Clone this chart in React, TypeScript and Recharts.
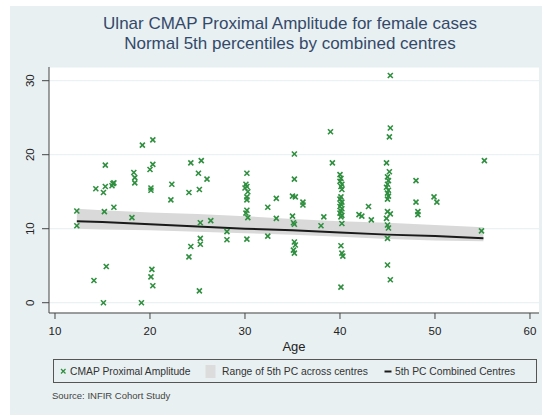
import React from 'react';
import { ComposedChart, Scatter, Area, Line, XAxis, YAxis, CartesianGrid } from 'recharts';

// Scatter: CMAP proximal amplitude by age (female cases)
const cmapAge = [
  12.3, 12.3,
  14.3, 14.1,
  15.3, 15.1, 15.3, 15.2, 15.4, 15.1,
  16.1, 16.2, 16.0, 16.2,
  18.1, 18.3, 18.4, 18.4,
  19.2, 19.1,
  20.3, 20.3, 20.0, 20.1, 20.1, 20.2, 20.1, 20.3,
  22.3, 22.2,
  24.3, 24.1, 24.3, 24.1,
  25.4, 25.1, 25.2, 25.3, 25.3, 25.3, 25.2,
  26.0, 26.4,
  28.1, 28.1,
  30.2, 30.1, 30.2, 30.0, 30.3, 30.2, 30.2, 30.2, 30.1, 30.3, 30.2,
  32.4, 32.4,
  33.3, 33.3,
  35.2, 35.2, 35.0, 35.3, 35.0, 35.1, 35.2, 35.2, 35.3, 35.1, 35.2,
  36.1, 36.1,
  38.3, 38.0,
  39.0, 39.2,
  40.0, 40.1, 40.0, 40.2, 40.1, 40.2, 40.1, 40.0, 40.2, 40.1, 40.0, 40.2, 40.1, 40.0, 40.2, 40.1, 40.2, 40.1, 40.2, 40.3, 40.1,
  42.0, 42.3,
  43.0, 43.3,
  45.3, 45.3, 45.2, 44.9, 45.2, 45.0, 45.1, 45.0, 44.9, 45.1, 45.0, 45.1, 45.0, 45.0, 45.3, 44.9, 45.0, 45.1, 45.0, 45.0, 45.3,
  48.0, 48.0, 48.2, 48.2,
  49.9, 50.2,
  55.2, 54.9,
];
const cmapAmp = [
  12.4, 10.4,
  15.4, 3.0,
  18.6, 14.9, 15.7, 12.3, 4.9, 0.0,
  16.1, 16.2, 15.8, 12.9,
  11.5, 17.6, 16.9, 16.2,
  21.3, 0.0,
  22.0, 18.7, 18.0, 15.5, 15.2, 4.5, 3.5, 2.3,
  16.0, 13.9,
  18.9, 14.9, 7.6, 6.2,
  19.2, 17.5, 15.3, 10.8, 8.7, 7.9, 1.6,
  16.7, 11.1,
  9.6, 8.5,
  17.5, 16.0, 15.7, 15.5, 15.0, 14.3, 13.9, 12.5, 12.1, 11.5, 8.6,
  12.9, 9.0,
  14.1, 11.4,
  20.1, 16.7, 14.4, 14.3, 11.7, 10.8, 10.6, 8.2, 7.8, 7.1, 6.7,
  13.6, 13.2,
  11.6, 10.4,
  23.1, 18.9,
  17.3, 16.8, 16.4, 16.0, 15.7, 15.3, 14.3, 14.0, 13.6, 13.3, 13.0, 12.7, 12.4, 12.1, 11.8, 11.6, 10.7, 7.7, 6.7, 6.3, 2.1,
  11.9, 11.7,
  13.0, 11.2,
  30.7, 23.6, 22.4, 18.9, 17.7, 17.0, 16.5, 16.0, 15.6, 15.2, 14.8, 14.4, 14.0, 12.3, 12.0, 11.4, 10.5, 10.1, 8.7, 5.1, 3.1,
  16.5, 13.6, 12.3, 11.9,
  14.3, 13.6,
  19.2, 9.7,
];

// Range of 5th PC across centres and combined 5th PC line
const pcAge = [12.3, 15, 20, 25, 30, 35, 40, 45, 50, 55.1];
const bandLow = [10.0, 9.9, 9.8, 9.6, 9.4, 9.2, 8.9, 8.6, 8.4, 8.3];
const bandHigh = [12.7, 12.5, 12.2, 12.0, 11.7, 11.3, 11.0, 10.8, 10.5, 10.2];
const pcCombined = [11.0, 10.9, 10.6, 10.3, 10.0, 9.8, 9.5, 9.2, 9.0, 8.7];

const xTicks = [10, 20, 30, 40, 50, 60];
const yTicks = [0, 10, 20, 30];

const titleLines = ['Ulnar CMAP Proximal Amplitude for female cases', 'Normal 5th percentiles by combined centres'];
const legendLabels = ['CMAP Proximal Amplitude', 'Range of 5th PC across centres', '5th PC Combined Centres'];
const sourceText = 'Source:  INFIR Cohort Study';
const xTitle = 'Age';

const scatterData = cmapAge.map((a, i) => ({ age: a, amp: cmapAmp[i] }));
const bandData = pcAge.map((a, i) => ({ age: a, lo: bandLow[i], hi: bandHigh[i] }));
const lineData = pcAge.map((a, i) => ({ age: a, pc: pcCombined[i] }));

const GREEN = '#2f8f3f';
const FONT = '"Liberation Sans", Arial, sans-serif';

const XMark = (props: any) => {
  const { cx, cy } = props;
  if (cx == null || cy == null) return null;
  const s = 2.5;
  return (
    <g stroke={GREEN} strokeWidth={1.6}>
      <line x1={cx - s} y1={cy - s} x2={cx + s} y2={cy + s} />
      <line x1={cx - s} y1={cy + s} x2={cx + s} y2={cy - s} />
    </g>
  );
};

const RotTick = (props: any) => {
  const { y, payload } = props;
  return (
    <text x={30} y={y} transform={`rotate(-90, 30, ${y})`} textAnchor="middle" dominantBaseline="central"
      fontSize={11.5} fill="#222" fontFamily={FONT}>
      {payload.value}
    </text>
  );
};

export default function App() {
  return (
    <div style={{ position: 'absolute', left: 0, top: 0, width: 542, height: 415, background: '#ffffff', fontFamily: FONT, overflow: 'hidden' }}>
      <div style={{ position: 'absolute', left: 10, top: 6, width: 532, height: 409, background: '#e8f0f2' }} />
      <div style={{ position: 'absolute', left: 90, top: 14, width: 400, textAlign: 'center', color: '#34496a', fontSize: 17, lineHeight: '20px' }}>
        <div>{titleLines[0]}</div>
        <div>{titleLines[1]}</div>
      </div>
      <div style={{ position: 'absolute', left: 0, top: 0 }}>
        <ComposedChart width={542} height={415} margin={{ top: 67, right: 3, bottom: 72, left: 9 }}>
          <CartesianGrid horizontal vertical={false} stroke="#e6eff1" fill="#ffffff" />
          <XAxis type="number" dataKey="age" domain={[9.37, 60.95]} ticks={xTicks} allowDataOverflow
            tickSize={6} tickMargin={8} height={30} stroke="#444"
            tick={{ fill: '#222', fontSize: 11.5, fontFamily: FONT }} />
          <YAxis type="number" domain={[-1.39, 31.85]} ticks={yTicks} allowDataOverflow width={40}
            tickSize={7} stroke="#444" tick={<RotTick />} />
          <Area data={bandData} dataKey={(d: any) => [d.lo, d.hi]} type="linear" fill="#d9d9d9" fillOpacity={1}
            stroke="none" isAnimationActive={false} dot={false} activeDot={false} />
          <Line data={lineData} dataKey="pc" type="linear" stroke="#1a1a1a" strokeWidth={2} dot={false}
            activeDot={false} isAnimationActive={false} />
          <Scatter data={scatterData} dataKey="amp" shape={XMark} isAnimationActive={false} />
        </ComposedChart>
      </div>
      <div style={{ position: 'absolute', left: 244, top: 339, width: 100, textAlign: 'center', fontSize: 13, color: '#222' }}>{xTitle}</div>
      <div style={{ position: 'absolute', left: 53, top: 359, width: 484, height: 24, border: '1px solid #555', boxSizing: 'border-box' }} />
      <svg style={{ position: 'absolute', left: 0, top: 0 }} width={542} height={415}>
        <g stroke={GREEN} strokeWidth={1.3}>
          <line x1={61} y1={369} x2={65.5} y2={373.5} />
          <line x1={61} y1={373.5} x2={65.5} y2={369} />
        </g>
        <text x={70} y={375} fontSize={10.3} fill="#333" fontFamily={FONT}>{legendLabels[0]}</text>
        <rect x={205.5} y={365} width={10} height={13} fill="#dcdcdc" />
        <text x={222} y={375} fontSize={10.3} fill="#333" fontFamily={FONT}>{legendLabels[1]}</text>
        <line x1={384.5} y1={371.5} x2={391.5} y2={371.5} stroke="#1a1a1a" strokeWidth={2} />
        <text x={395} y={375} fontSize={10.3} fill="#333" fontFamily={FONT}>{legendLabels[2]}</text>
        <text x={52} y={399} fontSize={9.5} fill="#444" fontFamily={FONT}>{sourceText}</text>
      </svg>
    </div>
  );
}
